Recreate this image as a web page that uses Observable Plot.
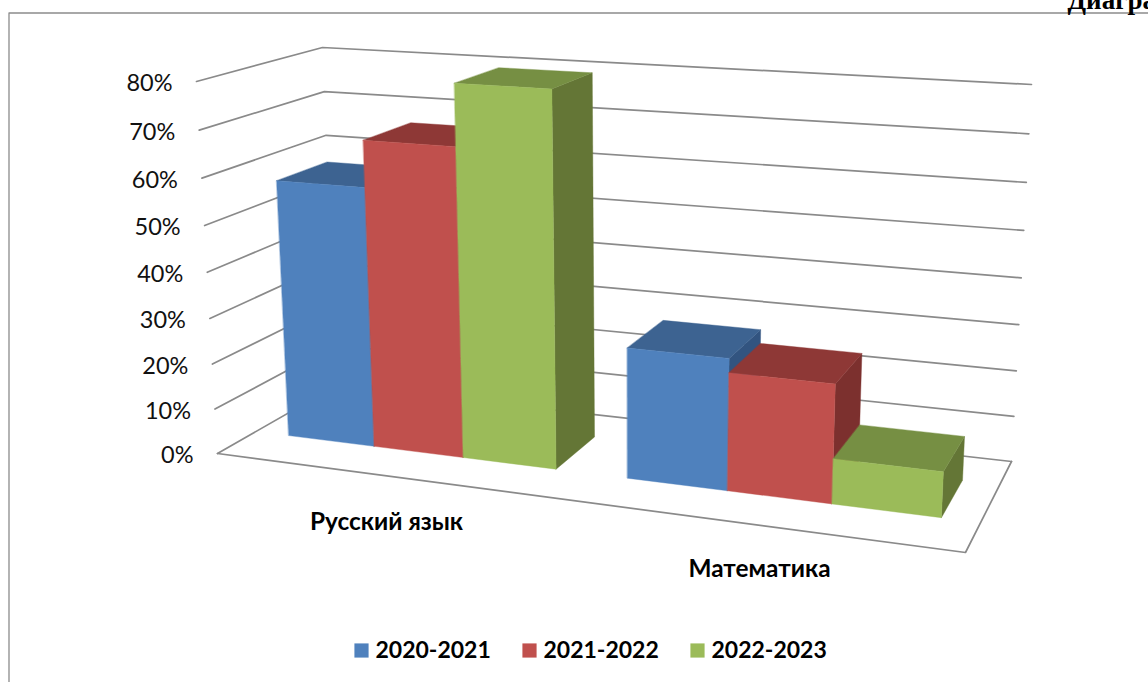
<!DOCTYPE html>
<html><head><meta charset="utf-8">
<style>html,body{margin:0;padding:0;background:#fff}svg{display:block}</style>
<script src="https://cdn.jsdelivr.net/npm/d3@7"></script>
<script src="https://cdn.jsdelivr.net/npm/@observablehq/plot@0.6"></script>
</head><body><script>
const categories = ["Русский язык", "Математика"];
const seriesNames = ["2020-2021", "2021-2022", "2022-2023"];
const russian = [57, 67, 80];
const math = [28, 25, 9.5];
const tickValues = [0, 10, 20, 30, 40, 50, 60, 70, 80];
const frontColors = ["#4F81BD", "#C0504D", "#9BBB59"];
const topColors = ["#3D6391", "#8E3836", "#768F43"];
const sideColors = ["#325480", "#7C302E", "#647636"];
const gridColor = "#8a8a8a";
const font = "Lato, 'Open Sans', sans-serif";

// Perspective of the 3-D box: the floor plane and the 80% plane
function quadMap(P0,P1,P2,P3){
  const [x0,y0]=P0,[x1,y1]=P1,[x2,y2]=P2,[x3,y3]=P3;
  const dx1=x1-x2,dx2=x3-x2,sx=x0-x1+x2-x3,dy1=y1-y2,dy2=y3-y2,sy=y0-y1+y2-y3;
  const den=dx1*dy2-dx2*dy1;
  const g=(sx*dy2-dx2*sy)/den,h=(dx1*sy-sx*dy1)/den;
  const a=x1-x0+g*x1,b=x3-x0+h*x3,d=y1-y0+g*y1,e=y3-y0+h*y3;
  return (u,w)=>{const q=g*u+h*w+1;return [(a*u+b*w+x0)/q,(d*u+e*w+y0)/q];};
}
const floorMap=quadMap([217,453],[965,552],[1011,461],[336,385]);
const topMap=quadMap([196,81],[985,130],[1031,84],[322,47]);
const K=-0.05;
function project(u,w,v){
  const t=v/80,s=t*(1+K)/(1+K*t);
  const A=floorMap(u,w),B=topMap(u,w);
  return [A[0]+(B[0]-A[0])*s,A[1]+(B[1]-A[1])*s];
}

// bar layout inside the box
const gap=0.74, shift=0.003, w0=0.30, w1=0.72;
const slot=(ci,si,o)=>shift+(ci+(gap/2+si+o)/(3+gap))/categories.length;

const polys=[];
const poly=(id,color,pts)=>pts.forEach(p=>{const [x,y]=project(...p);polys.push({id,color,x,y});});
[russian,math].forEach((vals,ci)=>vals.forEach((v,si)=>{
  const u0=slot(ci,si,0),u1=slot(ci,si,1),id=`${ci}-${si}`;
  poly(id+"s",sideColors[si],[[u1,w0,0],[u1,w1,0],[u1,w1,v],[u1,w0,v]]);
  poly(id+"t",topColors[si],[[u0,w0,v],[u1,w0,v],[u1,w1,v],[u0,w1,v]]);
  poly(id+"f",frontColors[si],[[u0,w0,0],[u1,w0,0],[u1,w0,v],[u0,w0,v]]);
}));

const grid=[];
const seg=(id,pts)=>pts.forEach(p=>{const [x,y]=project(...p);grid.push({id,x,y});});
tickValues.forEach(v=>seg("g"+v,[[0,0,v],[0,1,v],[1,1,v]]));
seg("floor",[[0,0,0],[1,0,0],[1,1,0]]);

const tickRows=tickValues.map(v=>{const [x,y]=project(0,0,v);return {x,y,label:v+"%"};});
const catRows=[{label:categories[0],x:386,y:522},{label:categories[1],x:759,y:569}];
const legendRows=seriesNames.map((label,i)=>({label,color:frontColors[i],x:361+168*i,tx:375+168*i,y:650}));

const chart=Plot.plot({
  width:1148,height:682,margin:0,
  x:{type:"identity",axis:null},y:{type:"identity",axis:null},color:{type:"identity"},
  style:{background:"#fff",fontFamily:font},
  marks:[
    Plot.line([{x:1148,y:12.5},{x:8.5,y:12.5},{x:8.5,y:682}],{x:"x",y:"y",stroke:"#8c8c8c",strokeWidth:1.3}),
    Plot.text(["Диаграмма"],{x:1067,y:8,text:d=>d,textAnchor:"start",lineAnchor:"bottom",fontFamily:"'Liberation Serif',serif",fontWeight:"bold",fontSize:27,fill:"#000"}),
    Plot.line(grid,{x:"x",y:"y",z:"id",stroke:gridColor,strokeWidth:1.7}),
    Plot.line(polys,{x:"x",y:"y",z:"id",fill:"color",stroke:"color",strokeWidth:0.4,curve:"linear-closed"}),
    Plot.text(tickRows,{x:"x",y:"y",text:"label",dx:-24,dy:2,textAnchor:"end",fontSize:23.5,fill:"#111"}),
    Plot.text(catRows,{x:"x",y:"y",text:"label",fontWeight:"bold",fontSize:24.4,fill:"#000"}),
    Plot.dot(legendRows,{x:"x",y:"y",symbol:"square",r:8,fill:"color"}),
    Plot.text(legendRows,{x:"tx",y:"y",text:"label",textAnchor:"start",fontWeight:"bold",fontSize:23,fill:"#000"})
  ]
});
document.body.appendChild(chart);
</script></body></html>
